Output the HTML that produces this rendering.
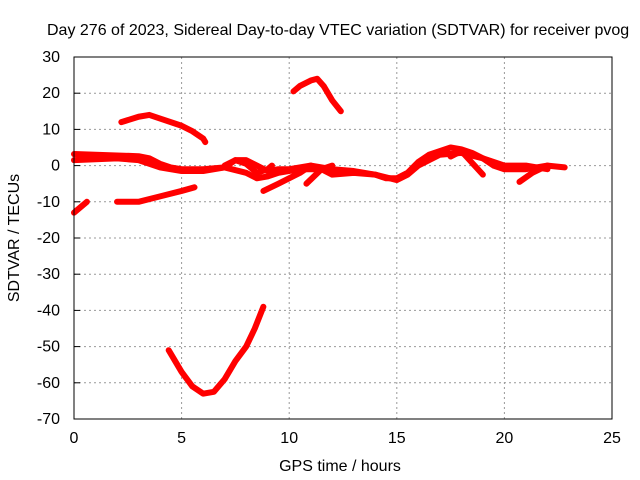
<!DOCTYPE html>
<html><head><meta charset="utf-8"><style>
body{margin:0;background:#fff}
svg{display:block;font-family:"Liberation Sans",sans-serif}
</style></head><body>
<svg id="c" width="640" height="480">
<rect width="640" height="480" fill="#fff"/>
<g id="grid"></g>
<g id="series"></g>
<rect x="74" y="57" width="538" height="362" fill="none" stroke="#000" stroke-width="1"/>
<g id="ticks"></g>
<text x="47" y="35" font-size="16">Day 276 of 2023, Sidereal Day-to-day VTEC variation (SDTVAR) for receiver pvog</text>
<text x="340" y="471" text-anchor="middle" font-size="16">GPS time / hours</text>
<text transform="translate(19,238) rotate(-90)" text-anchor="middle" font-size="16">SDTVAR / TECUs</text>
</svg>
<script>
const xTicks=[0,5,10,15,20,25];
const yTicks=[30,20,10,0,-10,-20,-30,-40,-50,-60,-70];
const mainUpper=[[0,3.2],[1,3],[2,2.8],[3,2.6],[3.5,2],[4,0.5],[4.5,-0.5],[5,-1],[6,-1],[7,-0.5],[7.5,1.5],[8,1.5],[8.5,0],[9,-1.5],[9.5,-1],[10,-1],[11,0],[12,-1],[13,-1.5],[14,-2.5],[14.5,-3.5],[15,-3.5],[15.5,-2],[16,1],[16.5,3],[17,4],[17.5,5],[18,4.5],[18.5,3.5],[19,2],[19.5,0],[20,-1],[21,-1],[22,0],[22.8,-0.5]];
const mainLower=[[0,1.5],[2,2],[3,1.5],[4,-0.5],[5,-1.5],[6,-1.5],[7,-0.5],[8,-2],[8.5,-3.5],[9,-3],[9.5,-2],[10.5,-1],[11.5,-1],[12,-2.5],[13,-2],[14,-2.5],[15,-4],[15.5,-2.5],[16,0],[17,3],[18,3.5],[19,2],[20,0],[21,0],[22,-1]];
const loop=[[7,0],[7.5,1.5],[8,0.5],[8.5,-2],[9,-1],[9.2,0]];
const branch1=[[8.8,-7],[9.5,-5],[10.5,-2],[11,0]];
const branch2=[[10.8,-5],[11.5,-1],[12,0]];
const branch3=[[17.5,2.5],[18,4],[19,-2.5]];
const branch4=[[20.7,-4.5],[21.3,-2],[22,0]];
const arcHigh=[[2.2,12],[3,13.5],[3.5,14],[4,13],[5,11],[5.5,9.5],[6,7.5],[6.1,6.5]];
const arcLow=[[2,-10],[3,-10],[4,-8.5],[5,-7],[5.6,-6]];
const shortSeg=[[0,-13],[0.6,-10]];
const peak=[[10.2,20.5],[10.5,22],[11,23.5],[11.3,24],[11.6,22],[12,18],[12.4,15]];
const dip=[[4.4,-51],[5,-57],[5.5,-61],[6,-63],[6.5,-62.5],[7,-59],[7.5,-54],[8,-50],[8.4,-45],[8.8,-39]];
const allSeries=[mainUpper,mainLower,loop,branch1,branch2,branch3,branch4,arcHigh,arcLow,shortSeg,peak,dip];
const X=v=>74+v*538/25, Y=v=>57+(30-v)*362/100;
const NS="http://www.w3.org/2000/svg";
const grid=document.getElementById('grid'),ticks=document.getElementById('ticks'),ser=document.getElementById('series');
function mk(t,a,p){const e=document.createElementNS(NS,t);for(const k in a)e.setAttribute(k,a[k]);p.appendChild(e);return e;}
xTicks.forEach(t=>{
 if(t>0&&t<25){const g=mk('line',{x1:X(t),x2:X(t),y1:57,y2:419,stroke:'#999','stroke-dasharray':'2,3'},grid);
 
 }
 const l=mk('text',{x:X(t),y:443,'text-anchor':'middle','font-size':16},ticks);l.textContent=t;
 
 
});
yTicks.forEach(t=>{
 if(t<30&&t>-70){const g=mk('line',{x1:74,x2:612,y1:Y(t),y2:Y(t),stroke:'#999','stroke-dasharray':'2,3'},grid);
 
 }
 mk('line',{x1:74,x2:80,y1:Y(t),y2:Y(t),stroke:'#000'},ticks);
 const l=mk('text',{x:60,y:Y(t)+5,'text-anchor':'end','font-size':16},ticks);l.textContent=t;
 
 
});
allSeries.forEach(s=>{
 const p=mk('polyline',{points:s.map(d=>X(d[0])+','+Y(d[1])).join(' '),fill:'none',stroke:'#f00','stroke-width':6,'stroke-linejoin':'round','stroke-linecap':'round'},ser);
 
 
});
</script>
</body></html>
